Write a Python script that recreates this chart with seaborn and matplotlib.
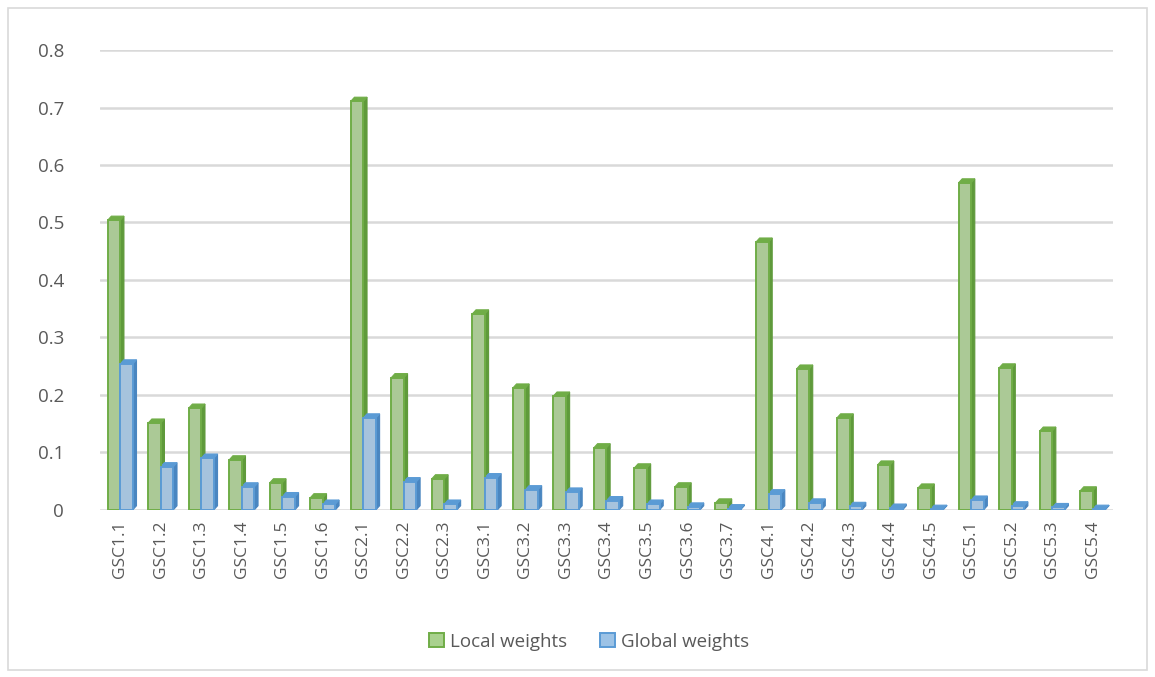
import pandas as pd
import matplotlib.pyplot as plt
import seaborn as sns
from matplotlib.patches import Polygon, Rectangle
from matplotlib.ticker import FuncFormatter

categories = ["GSC1.1", "GSC1.2", "GSC1.3", "GSC1.4", "GSC1.5", "GSC1.6",
              "GSC2.1", "GSC2.2", "GSC2.3",
              "GSC3.1", "GSC3.2", "GSC3.3", "GSC3.4", "GSC3.5", "GSC3.6", "GSC3.7",
              "GSC4.1", "GSC4.2", "GSC4.3", "GSC4.4", "GSC4.5",
              "GSC5.1", "GSC5.2", "GSC5.3", "GSC5.4"]

local_weights = [0.504, 0.151, 0.177, 0.087, 0.047, 0.021,
                 0.711, 0.230, 0.054,
                 0.341, 0.212, 0.198, 0.108, 0.073, 0.040, 0.012,
                 0.466, 0.245, 0.160, 0.078, 0.038,
                 0.569, 0.247, 0.137, 0.033]
global_weights = [0.254, 0.075, 0.090, 0.040, 0.023, 0.010,
                  0.160, 0.049, 0.010,
                  0.056, 0.035, 0.031, 0.016, 0.010, 0.005, 0.002,
                  0.028, 0.012, 0.006, 0.003, 0.001,
                  0.017, 0.007, 0.004, 0.001]

df = pd.DataFrame({
    "category": categories * 2,
    "weight": local_weights + global_weights,
    "series": ["Local weights"] * len(categories) + ["Global weights"] * len(categories),
})

face = {"Local weights": "#A9D18E", "Global weights": "#9DC3E6"}
edge = {"Local weights": "#70AD47", "Global weights": "#5B9BD5"}
side = {"Local weights": "#5F9A3B", "Global weights": "#4A86C0"}

sns.set_theme(style="white")
plt.rcParams["font.family"] = ["Open Sans", "DejaVu Sans"]

fig = plt.figure(figsize=(11.55, 6.77), dpi=100)
ax = fig.add_axes([0.0866, 0.247, 0.877, 0.679])

sns.barplot(data=df, x="category", y="weight", hue="series", palette=face,
            width=0.62, gap=0, ax=ax, legend=False, zorder=3)

# colour edges and fake the Excel 3D side/top faces from the drawn patches
n = len(categories)
dx, dy = 0.09, 0.007
for i, bar in enumerate(ax.patches[:2 * n]):
    s = "Local weights" if i < n else "Global weights"
    bar.set_edgecolor(edge[s])
    bar.set_linewidth(1.4)
    x0, w, h = bar.get_x(), bar.get_width(), bar.get_height()
    ax.add_patch(Polygon([(x0 + w, 0), (x0 + w + dx, dy), (x0 + w + dx, h + dy), (x0 + w, h)],
                         closed=True, facecolor=side[s], edgecolor=side[s], lw=0.8, zorder=2.9))
    ax.add_patch(Polygon([(x0, h), (x0 + w, h), (x0 + w + dx, h + dy), (x0 + dx, h + dy)],
                         closed=True, facecolor=edge[s], edgecolor=edge[s], lw=0.8, zorder=2.9))

ax.set_xlim(-0.5, n - 0.5)
ax.set_ylim(0, 0.8)
ax.set_yticks([0, 0.1, 0.2, 0.3, 0.4, 0.5, 0.6, 0.7, 0.8])
ax.yaxis.set_major_formatter(FuncFormatter(lambda v, p: "0" if v == 0 else f"{v:g}"))
ax.grid(axis="y", color="#D9D9D9", lw=1.8, zorder=0)
ax.grid(axis="x", visible=False)
for sp in ax.spines.values():
    sp.set_visible(False)
ax.set_xlabel("")
ax.set_ylabel("")
ax.tick_params(axis="y", labelsize=13.5, labelcolor="#595959", length=0, pad=26)
ax.tick_params(axis="x", labelsize=12.5, labelcolor="#595959", length=0, pad=8)
plt.setp(ax.get_xticklabels(), rotation=90)

handles = [Rectangle((0, 0), 1, 1, facecolor=face[s], edgecolor=edge[s], lw=1.4)
           for s in ["Local weights", "Global weights"]]
fig.legend(handles, ["Local weights", "Global weights"], loc="center",
           bbox_to_anchor=(0.51, 0.052), ncol=2, frameon=False, fontsize=13.5,
           handlelength=0.8, handleheight=0.8, handletextpad=0.3, columnspacing=1.8,
           labelcolor="#595959")

fig.add_artist(Rectangle((8 / 1155, 7 / 677), 1139 / 1155, 662 / 677,
                         transform=fig.transFigure, fill=False,
                         edgecolor="#D9D9D9", lw=1.2))

fig.savefig("out.png", dpi=100)
